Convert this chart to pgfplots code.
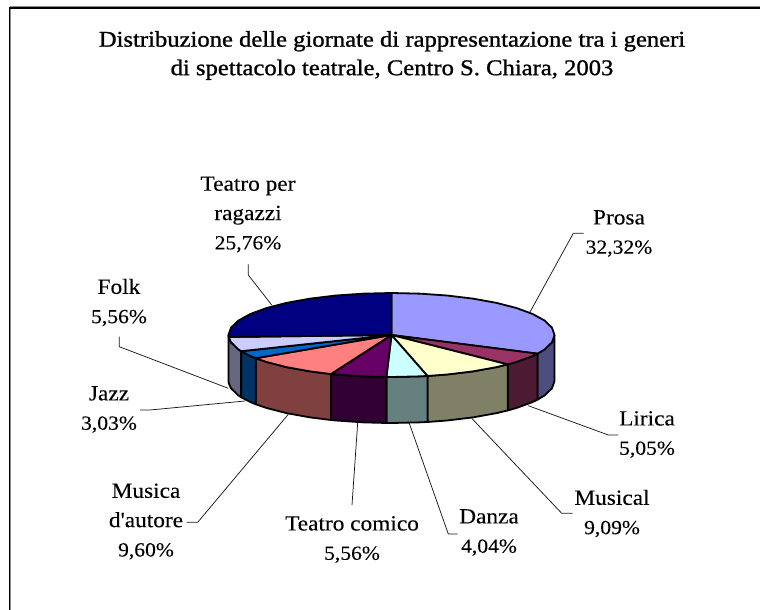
\documentclass[border=0pt]{standalone}
\usepackage{fontspec}
\setmainfont[FakeStretch=1.08,FakeBold=0.12,Ligatures=TeXOff]{Liberation Serif}
\newfontfamily\titlefont[FakeStretch=1.1,FakeBold=1.1]{Liberation Serif}
\usepackage{pgfplots}
\pgfplotsset{compat=1.18}
\definecolor{cA}{HTML}{9999FF}\definecolor{sA}{HTML}{4D4D80}
\definecolor{cB}{HTML}{993366}\definecolor{sB}{HTML}{4D1A33}
\definecolor{cC}{HTML}{FFFFCC}\definecolor{sC}{HTML}{808066}
\definecolor{cD}{HTML}{CCFFFF}\definecolor{sD}{HTML}{668080}
\definecolor{cE}{HTML}{660066}\definecolor{sE}{HTML}{330033}
\definecolor{cF}{HTML}{FF8080}\definecolor{sF}{HTML}{804040}
\definecolor{cG}{HTML}{0066CC}\definecolor{sG}{HTML}{003366}
\definecolor{cH}{HTML}{CCCCFF}\definecolor{sH}{HTML}{666680}
\definecolor{cI}{HTML}{000080}
\newcommand\w[1]{{\fontsize{21.6}{29.3}\selectfont #1}}
\tikzset{
  slice/.style={draw=black, line width=1.8pt, line join=round},
  leader/.style={draw=black!90, line width=0.75pt},
  lab/.style={align=center, inner sep=0pt, font=\fontsize{20}{29.3}\selectfont},
}
\begin{document}
\begin{tikzpicture}
\useasboundingbox (0,0) rectangle (760pt,610pt);
\begin{axis}[
  scale only axis, width=760pt, height=610pt,
  xmin=0, xmax=760, ymin=0, ymax=610, y dir=reverse,
  hide axis, clip=true,
]
% frame
\addplot[draw=black!45, line width=0.8pt] coordinates {(10.8,610)(10.8,6.8)(760,6.8)};
\addplot[draw=black, line width=1.4pt] coordinates {(9.5,610)(9.5,8)(760,8)};
% leaders
\addplot[leader] coordinates {(530,312)(573.3,233.3)(583.5,233.3)};
\addplot[leader] coordinates {(248.3,264.3)(248.3,275)(271.7,305)};
\addplot[leader] coordinates {(119.3,336.7)(119.3,346.7)(228.3,388.3)};
\addplot[leader] coordinates {(140,410)(150,410)(245,401)};
\addplot[leader] coordinates {(186.7,522.3)(197.7,522.3)(288.3,414.3)};
\addplot[leader] coordinates {(357.7,422.7)(352,505)};
\addplot[leader] coordinates {(409.3,423.3)(448.3,534)(457.7,534)};
\addplot[leader] coordinates {(471.7,418.3)(561.7,513.3)(572.7,513.3)};
\addplot[leader] coordinates {(528.3,405.7)(608.3,435)(618.3,435)};
% side walls
\addplot[slice, fill=sA] coordinates {(554.5,335)(552,342.29)(544.7,349.36)(537.5,353.65)(537.5,399.65)(544.7,395.36)(552,388.29)(554.5,381)(554.5,335)};
\addplot[slice, fill=sB] coordinates {(537.5,353.65)(532.7,356)(516.4,362)(507.8,364.43)(507.8,410.43)(516.4,408)(532.7,402)(537.5,399.65)(537.5,353.65)};
\addplot[slice, fill=sC] coordinates {(507.8,364.43)(496.3,367.17)(473,371.37)(447.25,374.47)(427.46,375.97)(427.46,421.97)(447.25,420.47)(473,417.37)(496.3,413.17)(507.8,410.43)(507.8,364.43)};
\addplot[slice, fill=sD] coordinates {(427.46,375.97)(419.8,376.36)(391.5,377)(386.38,376.98)(386.38,422.98)(391.5,423)(419.8,422.36)(427.46,421.97)(427.46,375.97)};
\addplot[slice, fill=sE] coordinates {(386.38,376.98)(363.2,376.36)(335.75,374.47)(331,374)(331,420)(335.75,420.47)(363.2,422.36)(386.38,422.98)(386.38,376.98)};
\addplot[slice, fill=sF] coordinates {(331,374)(310,371.37)(286.7,367.17)(266.6,362)(255.7,358.24)(255.7,404.24)(266.6,408)(286.7,413.17)(310,417.37)(331,420)(331,374)};
\addplot[slice, fill=sG] coordinates {(255.7,358.24)(250.3,356)(241.1,351.2)(241.1,397.2)(250.3,402)(255.7,404.24)(255.7,358.24)};
\addplot[slice, fill=sH] coordinates {(241.1,351.2)(238.3,349.36)(231,342.29)(228.7,336.98)(228.5,335)(228.5,381)(228.7,382.98)(231,388.29)(238.3,395.36)(241.1,397.2)(241.1,351.2)};
% top faces
\addplot[slice, fill=cA] coordinates {(391.5,335)(391.5,293)(419.8,293.64)(447.25,295.53)(473,298.63)(496.3,302.83)(516.4,308)(532.7,314)(544.7,320.64)(552,327.71)(554.5,335)(552,342.29)(544.7,349.36)(537.5,353.65)(391.5,335)};
\addplot[slice, fill=cB] coordinates {(391.5,335)(537.5,353.65)(532.7,356)(516.4,362)(507.8,364.43)(391.5,335)};
\addplot[slice, fill=cC] coordinates {(391.5,335)(507.8,364.43)(496.3,367.17)(473,371.37)(447.25,374.47)(427.46,375.97)(391.5,335)};
\addplot[slice, fill=cD] coordinates {(391.5,335)(427.46,375.97)(419.8,376.36)(391.5,377)(386.38,376.98)(391.5,335)};
\addplot[slice, fill=cE] coordinates {(391.5,335)(386.38,376.98)(363.2,376.36)(335.75,374.47)(331,374)(391.5,335)};
\addplot[slice, fill=cF] coordinates {(391.5,335)(331,374)(310,371.37)(286.7,367.17)(266.6,362)(255.7,358.24)(391.5,335)};
\addplot[slice, fill=cG] coordinates {(391.5,335)(255.7,358.24)(250.3,356)(241.1,351.2)(391.5,335)};
\addplot[slice, fill=cH] coordinates {(391.5,335)(241.1,351.2)(238.3,349.36)(231,342.29)(228.7,336.98)(391.5,335)};
\addplot[slice, fill=cI] coordinates {(391.5,335)(228.7,336.98)(228.5,335)(231,327.71)(238.3,320.64)(250.3,314)(266.6,308)(286.7,302.83)(310,298.63)(335.75,295.53)(363.2,293.64)(391.5,293)(391.5,335)};
% title
\node[align=center, inner sep=0pt, font=\titlefont\fontsize{22.4}{28.5}\selectfont] at (axis cs:392,55.5) {Distribuzione delle giornate di rappresentazione tra i generi\\di spettacolo teatrale, Centro S. Chiara, 2003};
% labels
\node[lab] at (axis cs:619,233.5) {\w{Prosa}\\32,32\%};
\node[lab] at (axis cs:248,214.5) {\w{Teatro per}\\\w{ragazzi}\\25,76\%};
\node[lab] at (axis cs:119,302.5) {\w{Folk}\\5,56\%};
\node[lab] at (axis cs:109,409.5) {\w{Jazz}\\3,03\%};
\node[lab] at (axis cs:647,434.5) {\w{Lirica}\\5,05\%};
\node[lab] at (axis cs:612,513.5) {\w{Musical}\\9,09\%};
\node[lab] at (axis cs:489,532.5) {\w{Danza}\\4,04\%};
\node[lab] at (axis cs:352,539.5) {\w{Teatro comico}\\5,56\%};
\node[lab] at (axis cs:146,521.5) {\w{Musica}\\\w{d'autore}\\9,60\%};
\end{axis}
\end{tikzpicture}
\end{document}
